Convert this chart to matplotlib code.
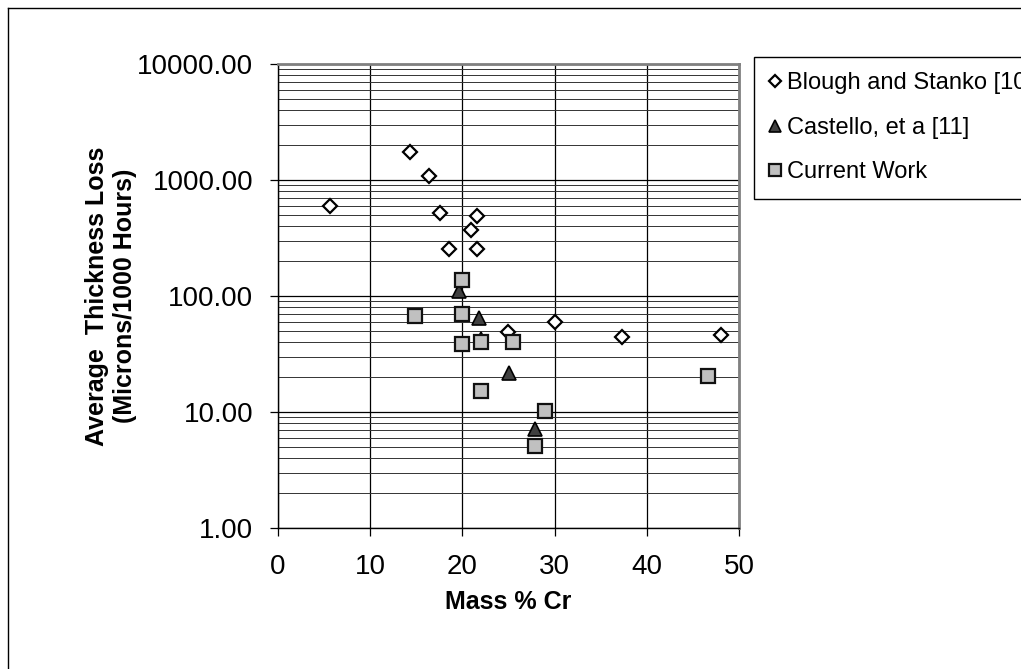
import matplotlib
matplotlib.use("Agg")
import matplotlib.pyplot as plt
from matplotlib.lines import Line2D

plt.rcParams['font.family'] = ['Liberation Sans', 'DejaVu Sans']

# Data
blough_x = [5.6, 14.3, 16.4, 17.6, 21.6, 20.9, 18.5, 21.6, 24.9, 30.0, 37.3, 48.0]
blough_y = [597, 1750, 1090, 523, 490, 368, 252, 252, 49, 60, 44.6, 46]
castello_x = [19.6, 21.8, 22.0, 25.0, 27.9]
castello_y = [110, 65, 43, 21.5, 7.2]
current_x = [20.0, 14.9, 20.0, 20.0, 22.0, 25.5, 22.0, 29.0, 27.9, 46.6]
current_y = [137, 67, 69.5, 38.5, 40.4, 40.4, 15.3, 10.2, 5.1, 20.4]

series_labels = ["Blough and Stanko [10]", "Castello, et a [11]", "Current Work"]
xticks = [0, 10, 20, 30, 40, 50]
yticks = [1, 10, 100, 1000, 10000]
ytick_labels = ["1.00", "10.00", "100.00", "1000.00", "10000.00"]

W, H = 1021, 669
fig = plt.figure(figsize=(W / 100, H / 100), dpi=100)
ax = fig.add_axes([278 / W, 1 - 528 / H, (739 - 278) / W, (528 - 64) / H])

ax.set_yscale('log')
ax.set_xlim(0, 50)
ax.set_ylim(1, 10000)

# grid
ax.set_xticks(xticks)
ax.set_xticklabels([str(t) for t in xticks])
ax.set_yticks(yticks)
ax.set_yticklabels(ytick_labels)
ax.yaxis.set_minor_locator(matplotlib.ticker.LogLocator(base=10, subs=range(2, 10)))
ax.yaxis.set_minor_formatter(matplotlib.ticker.NullFormatter())
ax.grid(True, which='major', axis='both', color='black', linewidth=0.9)
ax.grid(True, which='minor', axis='y', color='#333333', linewidth=0.7)
ax.set_axisbelow(True)
ax.tick_params(which='major', direction='out', length=6, width=0.9, labelsize=20, pad=12, color='black')
ax.tick_params(axis='x', pad=13)
ax.tick_params(which='minor', length=0)

for s in ['left', 'bottom']:
    ax.spines[s].set_color('black')
    ax.spines[s].set_linewidth(1.0)
for s in ['right', 'top']:
    ax.spines[s].set_color('#808080')
    ax.spines[s].set_linewidth(2.0)

ax.plot(blough_x, blough_y, linestyle='none', marker='D', markersize=7.2,
        markerfacecolor='white', markeredgecolor='black', markeredgewidth=1.6,
        label=series_labels[0], zorder=3)
ax.plot(castello_x, castello_y, linestyle='none', marker='^', markersize=10,
        markerfacecolor='#404040', markeredgecolor='black', markeredgewidth=1.2,
        label=series_labels[1], zorder=4)
ax.plot(current_x, current_y, linestyle='none', marker='s', markersize=10,
        markerfacecolor='#C0C0C0', markeredgecolor='#111111', markeredgewidth=1.6,
        label=series_labels[2], zorder=5)

ax.set_xlabel("Mass % Cr", fontsize=18, fontweight='bold', labelpad=7)
fig.text(111 / W, 1 - 296 / H, "Average  Thickness Loss\n(Microns/1000 Hours)",
         rotation=90, ha='center', va='center', multialignment='center',
         fontsize=18, fontweight='bold', linespacing=1.25)

leg = ax.legend(loc='upper left', bbox_to_anchor=(754 / W, 1 - 57 / H),
                bbox_transform=fig.transFigure, borderaxespad=0, fontsize=17,
                frameon=True, fancybox=False, framealpha=1, edgecolor='black',
                handlelength=0.5, handletextpad=0.25, labelspacing=0.95,
                markerscale=0.85, borderpad=0.65)
leg.get_frame().set_linewidth(1.0)

# outer chart frame
fig.add_artist(Line2D([8 / W, 8 / W], [0, 1 - 8 / H], transform=fig.transFigure, color='black', linewidth=1.0))
fig.add_artist(Line2D([8 / W, 1], [1 - 8 / H, 1 - 8 / H], transform=fig.transFigure, color='black', linewidth=1.0))

fig.savefig("out.png", dpi=100)
